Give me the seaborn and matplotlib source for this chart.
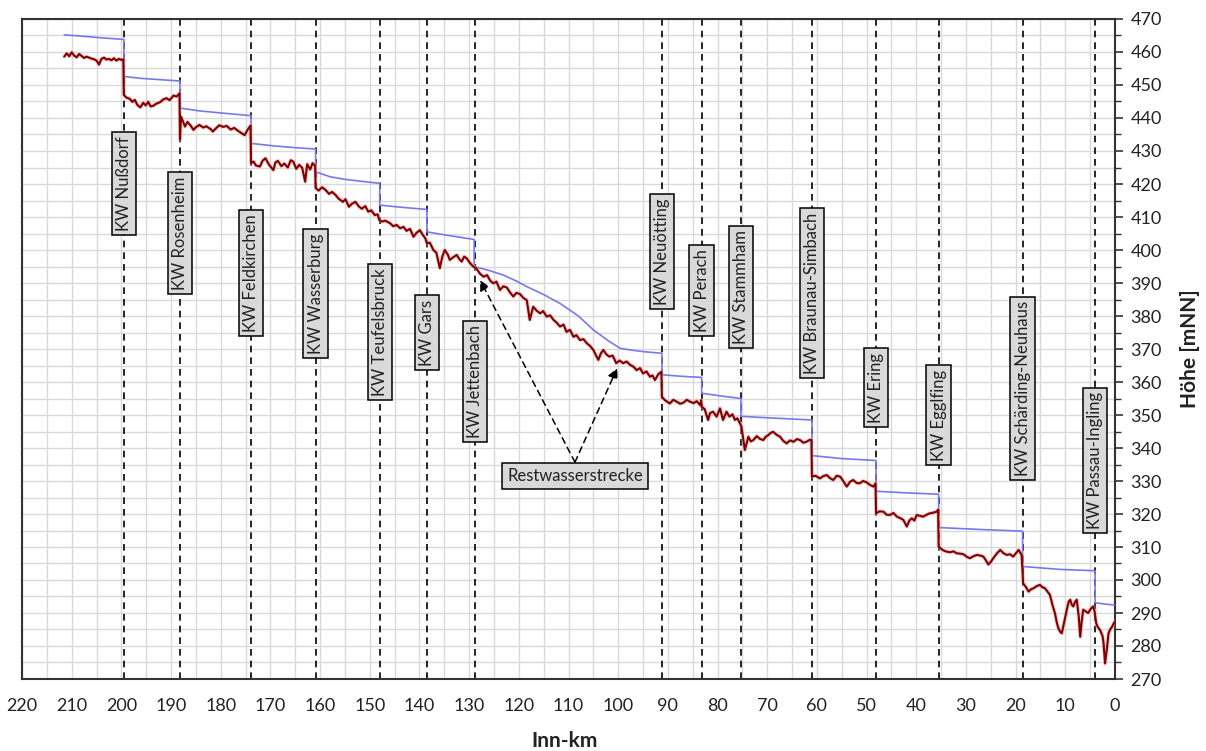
import matplotlib
matplotlib.use("Agg")
import matplotlib.pyplot as plt
import matplotlib.patheffects as pe
from matplotlib.ticker import MultipleLocator
import seaborn as sns
import pandas as pd

# Stauziel / Wasserspiegel (blue), km and height
blue_km = [211.5, 208, 204, 199.5, 199.5, 196, 192, 188.2, 188.2, 184, 179, 173.9,
           173.9, 169, 165, 160.9, 160.9, 158, 155, 151, 148, 148, 144, 141, 138.5,
           138.5, 135, 132, 129, 129, 126, 123.1, 120.5, 118.4, 115, 111.7, 108, 105,
           102, 99.6, 97, 94.9, 91.2, 91.2, 87, 83.2, 83.2, 79, 75.3, 75.3, 68, 61,
           61, 55, 48.1, 48.1, 42, 35.5, 35.5, 27, 18.6, 18.6, 11, 4.0, 4.0, 2, 0]
blue_h = [465.2, 464.8, 464.3, 463.8, 452.6, 452.0, 451.6, 451.2, 443.0, 442.1, 441.4, 440.7,
          432.3, 431.5, 431.0, 430.6, 423.7, 422.2, 421.4, 420.7, 420.2, 413.6, 413.0, 412.6, 412.3,
          405.5, 404.6, 403.9, 403.2, 395.0, 393.8, 392.4, 390.6, 388.9, 386.5, 383.8, 380.0, 375.8,
          372.5, 370.2, 369.6, 369.2, 368.7, 362.2, 361.7, 361.4, 356.6, 355.7, 355.0, 349.6, 349.0, 348.5,
          337.7, 336.8, 336.2, 326.9, 326.4, 326.0, 315.9, 315.3, 314.8, 304.1, 303.2, 302.8, 293.1, 292.7, 292.4]

# Flusssohle (red), km and height
red_km = [211.5, 211.0, 210.5, 210.0, 209.5, 209.0, 208.5, 208.0, 207.5, 207.0, 206.5, 206.0,
          205.5, 205.0, 204.5, 204.0, 203.5, 203.0, 202.5, 202.0, 201.5, 201.0, 200.5, 200.0, 199.6,
          199.5, 199.0, 198.3, 197.8, 197.3, 196.8, 196.2, 195.6, 195.1, 194.6, 194.1, 193.6, 193.0,
          192.2, 191.6, 190.9, 190.3, 189.5, 188.9, 188.5, 188.3,
          188.2, 188.0, 187.5, 187.2, 186.7, 186.0, 185.5, 185.0, 184.3, 183.5, 182.9, 182.0, 181.6,
          181.0, 180.3, 179.5, 178.8, 178.0, 177.3, 176.6, 175.9, 175.2, 174.6, 174.0,
          173.9, 173.4, 172.9, 172.1, 171.6, 171.0, 170.3, 169.4, 169.0, 168.5, 167.8, 167.2, 166.5,
          165.9, 165.4, 164.8, 164.2, 163.6, 163.0, 162.6, 162.0, 161.5, 161.0,
          160.9, 160.3, 159.6, 158.9, 158.2, 157.6, 156.9, 156.3, 155.4, 154.9, 154.2, 153.6, 152.9,
          152.2, 151.6, 150.9, 150.3, 149.7, 149.0, 148.4, 148.1,
          147.6, 146.9, 145.9, 145.3, 144.6, 143.9, 143.2, 142.6, 141.9, 141.2, 140.6, 139.9, 139.3,
          138.8, 138.5,
          137.9, 137.2, 136.6, 135.9, 135.4, 134.9, 134.3, 133.9, 133.2, 132.5, 132.0, 131.5, 131.0,
          130.5, 129.9, 129.2,
          128.6, 127.8, 127.1, 126.4, 125.7, 125.1, 124.5, 123.8, 123.1, 122.4, 121.8, 121.1, 120.5,
          119.8, 119.1, 118.4, 117.8, 117.1, 116.4, 115.7, 115.1, 114.4, 113.7, 113.0, 112.4, 111.7,
          111.0, 110.4, 109.7, 109.0, 108.4, 107.7, 107.0, 106.3, 105.7, 105.0, 104.0, 103.5, 103.0,
          102.4, 101.8, 101.1, 100.4, 99.7, 99.0, 98.3, 97.6, 96.9, 96.3, 95.6, 95.0, 94.3, 93.6,
          93.1, 92.6, 91.9, 91.3,
          91.2, 90.6, 89.6, 88.9, 88.2, 87.5, 86.8, 86.2, 85.5, 84.8, 84.2, 83.5, 83.3,
          83.2, 82.6, 81.9, 81.5, 80.9, 80.2, 79.5, 78.9, 78.2, 77.6, 77.0, 76.5, 76.0, 75.5,
          75.2, 74.5, 73.8, 73.3, 72.8, 72.1, 71.5, 70.8, 70.3, 69.8, 69.3, 68.8, 68.1, 67.4, 66.8,
          66.1, 65.4, 64.7, 64.0, 63.4, 62.7, 62.1, 61.4, 61.1,
          61.0, 60.3, 59.4, 58.7, 58.0, 57.4, 56.7, 56.0, 55.3, 54.7, 54.0, 53.3, 52.7, 52.0, 51.4,
          50.7, 50.0, 49.3, 48.6, 48.2,
          48.1, 47.4, 46.6, 46.0, 45.3, 44.6, 43.9, 43.3, 42.6, 41.9, 41.4, 40.9, 40.4, 39.9, 39.2,
          38.6, 37.9, 37.3, 36.6, 35.9, 35.6,
          35.5, 34.6, 33.9, 33.2, 32.5, 31.9, 31.2, 30.5, 29.8, 29.2, 28.5, 27.8, 27.1, 26.5, 26.0,
          25.5, 25.0, 24.5, 23.8, 23.1, 22.5, 21.8, 21.1, 20.5, 19.9, 19.4, 18.8,
          18.6, 18.5, 17.9, 17.4, 16.9, 16.4, 15.7, 15.1, 14.6, 14.1, 13.6, 13.1, 12.6, 12.1, 11.7,
          11.4, 11.0, 10.7, 10.2, 9.7, 9.3, 9.0, 8.7, 8.4, 8.0, 7.7, 7.3, 7.0, 6.7, 6.4, 5.9, 5.4,
          4.9, 4.4, 4.1,
          3.8, 3.5, 3.0, 2.5, 2.3, 2.0, 1.6, 1.3, 0.9, 0.6, 0.2, 0.0]
red_h = [458.6, 459.6, 458.7, 459.9, 458.9, 458.4, 459.4, 458.8, 458.2, 458.6, 458.3, 458.0,
         457.8, 457.4, 456.2, 457.9, 458.3, 457.7, 457.9, 457.5, 458.1, 457.4, 457.9, 457.6, 457.8,
         447.0, 446.2, 445.8, 444.9, 445.5, 444.0, 443.2, 444.6, 443.8, 444.9, 443.5, 443.7, 444.3,
         444.8, 445.6, 446.0, 445.4, 446.8, 446.5, 447.1, 447.5,
         433.5, 440.4, 438.6, 437.4, 438.8, 437.6, 436.4, 437.2, 437.9, 437.1, 437.5, 436.6, 435.9,
         436.8, 437.8, 437.3, 437.6, 436.5, 437.0, 436.2, 435.5, 434.8, 436.4, 437.7,
         426.3, 426.8, 425.6, 425.3, 427.0, 427.8, 425.9, 424.2, 426.5, 427.0, 425.4, 426.2, 425.0,
         427.2, 426.8, 424.6, 425.8, 424.9, 420.7, 426.0, 424.4, 426.3, 425.5,
         418.8, 418.0, 419.0, 418.2, 417.0, 417.6, 416.7, 415.6, 414.6, 415.4, 413.1, 414.0, 414.6,
         413.2, 412.5, 413.3, 411.6, 412.0, 410.6, 410.8, 409.1,
         408.6, 408.9, 408.1, 407.2, 407.6, 406.6, 407.0, 405.8, 406.4, 404.0, 405.2, 406.0, 404.5,
         403.5, 402.0,
         402.2, 400.0, 399.2, 394.5, 398.0, 400.0, 398.6, 397.0, 397.8, 398.5, 397.3, 396.5, 398.0,
         397.5, 396.2, 395.0,
         394.5, 392.8, 391.9, 392.4, 390.6, 389.9, 390.4, 387.9, 389.0, 388.6, 387.2, 385.9, 387.0,
         386.7, 385.5, 384.8, 378.8, 382.8, 381.6, 380.8, 381.5, 379.8, 380.2, 378.8, 378.0, 376.8,
         377.4, 375.2, 375.8, 373.7, 374.2, 372.7, 373.0, 371.7, 371.0, 369.7, 366.7, 368.6, 369.7,
         368.4, 367.7, 368.0, 365.7, 366.5, 365.7, 366.2, 365.2, 364.6, 363.6, 364.2, 362.6, 363.2, 361.6,
         362.0, 360.6, 362.4, 363.1,
         355.5, 354.5, 353.5, 354.6, 354.0, 353.4, 353.8, 354.6, 354.0, 353.6, 354.2, 353.0, 354.5,
         352.5, 351.8, 348.5, 350.6, 351.0, 349.5, 352.0, 348.5, 351.0, 349.5, 350.2, 348.5, 349.0, 347.5,
         346.5, 339.4, 343.4, 342.0, 342.4, 343.6, 342.8, 342.4, 343.4, 343.9, 344.6, 344.9, 344.0, 343.4, 342.2,
         341.4, 342.3, 341.9, 342.7, 342.4, 341.6, 341.9, 342.5, 342.4,
         331.3, 331.6, 330.8, 331.5, 331.8, 330.9, 330.3, 331.6, 331.3, 330.0, 328.3, 329.8, 330.3, 329.4, 329.3,
         330.0, 329.6, 328.8, 328.3, 329.3,
         320.2, 320.8, 320.7, 319.8, 319.7, 320.3, 319.2, 318.8, 318.2, 316.2, 318.0, 318.7, 318.0, 319.7, 319.4,
         319.2, 319.8, 320.2, 320.4, 320.7, 321.3,
         310.1, 309.0, 308.6, 308.4, 308.7, 308.1, 308.0, 307.8, 307.0, 306.6, 307.2, 307.6, 307.4, 307.1, 306.0,
         304.7, 305.5, 306.6, 308.0, 309.1, 308.2, 307.6, 307.8, 307.1, 308.2, 309.1, 307.6,
         302.5, 299.0, 297.8, 296.5, 297.2, 297.5, 298.2, 298.5, 297.8, 297.5, 296.5, 295.5, 292.5, 290.0, 287.0,
         285.4, 284.2, 283.9, 287.5, 291.0, 293.5, 294.0, 292.5, 292.0, 293.5, 294.0, 289.0, 282.8, 287.5, 291.0, 290.5, 290.0,
         291.2, 292.0, 290.5,
         287.0, 285.8, 284.8, 283.0, 280.8, 274.7, 279.5, 283.9, 285.2, 285.8, 287.0, 287.4]

# Kraftwerke
kw_names = ["KW Nußdorf", "KW Rosenheim", "KW Feldkirchen", "KW Wasserburg", "KW Teufelsbruck",
            "KW Gars", "KW Jettenbach", "KW Neuötting", "KW Perach", "KW Stammham",
            "KW Braunau-Simbach", "KW Ering", "KW Egglfing", "KW Schärding-Neuhaus", "KW Passau-Ingling"]
kw_km = [199.5, 188.2, 173.9, 160.9, 148.0, 138.5, 128.8, 91.2, 83.2, 75.3, 61.0, 48.1, 35.5, 18.6, 4.0]
kw_label_h = [420.2, 405.2, 393.0, 386.8, 375.2, 375.0, 360.2, 399.5, 387.7, 388.8, 387.0, 358.3, 350.0, 358.0, 336.2]

rest_label = "Restwasserstrecke"
rest_pos = (108.7, 331.5)
rest_targets = [(127.8, 390.9), (100.2, 364.2)]

sns.set_style("white")
plt.rcParams["font.family"] = ["Lato", "DejaVu Sans"]

df_blue = pd.DataFrame({"km": blue_km, "h": blue_h})
df_red = pd.DataFrame({"km": red_km, "h": red_h})

fig = plt.figure(figsize=(12.06, 7.51), dpi=100)
ax = fig.add_axes([22 / 1206, 1 - 679 / 751, 1093 / 1206, 660 / 751])

for k in kw_km:
    ax.axvline(k, color="black", lw=1.2, ls=(0, (4, 3)), zorder=2)

sns.lineplot(data=df_blue, x="km", y="h", sort=False, estimator=None, color="#7878ee",
             lw=1.2, ax=ax, zorder=3)
sns.lineplot(data=df_red, x="km", y="h", sort=False, estimator=None, color="#800000",
             lw=1.5, ax=ax, zorder=4,
             path_effects=[pe.Stroke(linewidth=3, foreground="#e9a3a3", alpha=0.5), pe.Normal()])

box = dict(boxstyle="square,pad=0.25", fc="#d9d9d9", ec="black", lw=1.1)
for name, k, h in zip(kw_names, kw_km, kw_label_h):
    ax.text(k, h, name, rotation=90, ha="center", va="center", fontsize=12,
            color="#222222", bbox=box, zorder=6)

ax.text(rest_pos[0], rest_pos[1], rest_label, ha="center", va="center", fontsize=12,
        color="#222222", bbox=dict(boxstyle="square,pad=0.3", fc="#d9d9d9", ec="black", lw=1.1),
        zorder=6)
for tx, ty in rest_targets:
    ax.annotate("", xy=(tx, ty), xytext=(rest_pos[0], rest_pos[1] + 4.2),
                arrowprops=dict(arrowstyle="-|>,head_length=0.6,head_width=0.3",
                                ls=(0, (4, 3)), color="black", lw=1.1, shrinkA=0, shrinkB=0),
                zorder=5)

ax.set_xlim(220, 0)
ax.set_ylim(270, 470)
ax.xaxis.set_major_locator(MultipleLocator(10))
ax.xaxis.set_minor_locator(MultipleLocator(5))
ax.yaxis.set_major_locator(MultipleLocator(10))
ax.yaxis.set_minor_locator(MultipleLocator(5))
ax.yaxis.tick_right()
ax.grid(which="both", color="#d9d9d9", lw=1.0, zorder=0)
ax.set_axisbelow(True)
ax.tick_params(which="major", direction="out", length=6, width=1.2, color="#333333",
               labelsize=13, labelcolor="#222222")
ax.tick_params(axis="x", which="major", pad=8)
ax.tick_params(axis="y", which="major", pad=5)
ax.tick_params(which="minor", direction="out", length=4, width=1.0, color="#333333")
for s in ax.spines.values():
    s.set_visible(True)
    s.set_color("#333333")
    s.set_linewidth(1.5)
ax.set_xlabel("")
ax.set_ylabel("")

fig.text(565 / 1206, 1 - 741 / 751, "Inn-km", ha="center", va="center", fontsize=15,
         fontweight="bold", color="#222222")
fig.text(1190 / 1206, 1 - 349 / 751, "Höhe [mNN]", ha="center", va="center", rotation=90,
         fontsize=15, fontweight="bold", color="#222222")

fig.savefig("out.png", dpi=100)
